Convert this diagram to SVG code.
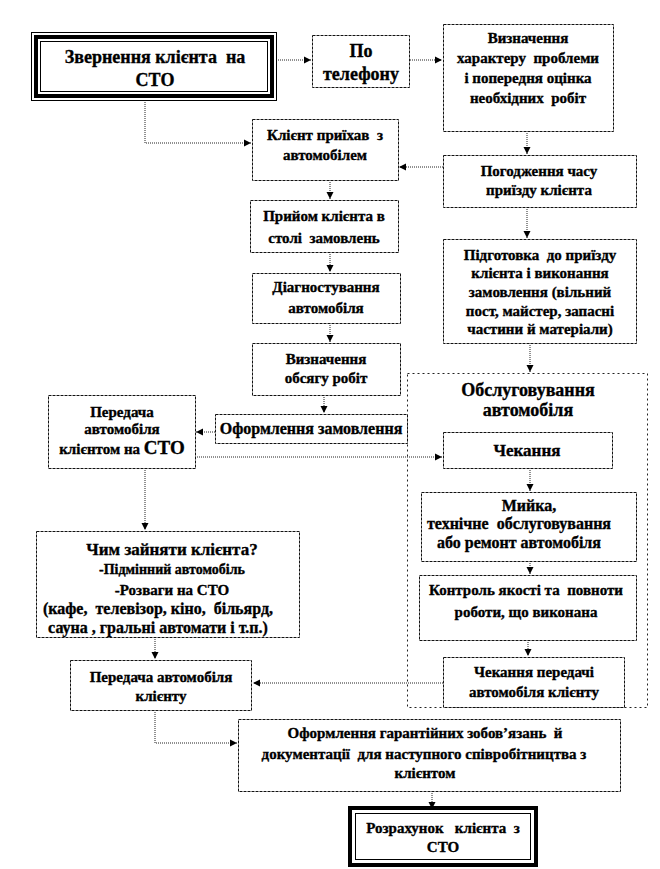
<svg xmlns="http://www.w3.org/2000/svg" width="660" height="869" viewBox="0 0 660 869">
<defs>
<marker id="ah" markerWidth="8" markerHeight="8" refX="7" refY="4" orient="auto" markerUnits="userSpaceOnUse">
<path d="M0,0.5 L7,4 L0,7.5 Z" fill="#000"/>
</marker>
<style>
.b{fill:#fff;stroke:#111;stroke-width:1;stroke-dasharray:3,1}
.t{font-family:'Liberation Serif','DejaVu Serif','Times New Roman',serif;font-weight:bold;font-size:15px;fill:#000;stroke:#000;stroke-width:0.35;text-anchor:middle;white-space:pre}
.ca{fill:none;stroke:#222;stroke-width:1;stroke-dasharray:1,1;marker-end:url(#ah)}
.cont{fill:none;stroke:#222;stroke-width:1;stroke-dasharray:2,3}
</style>
</defs>
<rect width="660" height="869" fill="#fff"/>

<g id="service-container">
<rect class="cont" x="407.5" y="373.5" width="240" height="334"/>
<text class="t" x="528" y="396" style="font-size:18px">Обслуговування</text>
<text class="t" x="528" y="416" style="font-size:18px">автомобіля</text>
</g>

<g id="connectors">
<line class="ca" x1="276" y1="60" x2="311" y2="60"/>
<line class="ca" x1="410" y1="60" x2="442" y2="60"/>
<polyline class="ca" points="145,100 145,143 251,143"/>
<line class="ca" x1="527" y1="131" x2="527" y2="154"/>
<line class="ca" x1="443" y1="167" x2="399" y2="167"/>
<line class="ca" x1="330" y1="180" x2="330" y2="199"/>
<line class="ca" x1="527" y1="207" x2="527" y2="238"/>
<line class="ca" x1="330" y1="252" x2="330" y2="272"/>
<line class="ca" x1="330" y1="323" x2="330" y2="342"/>
<line class="ca" x1="530" y1="343" x2="530" y2="372"/>
<line class="ca" x1="324" y1="395" x2="324" y2="413"/>
<line class="ca" x1="215" y1="432" x2="196" y2="432"/>
<line class="ca" x1="195" y1="457" x2="442" y2="457"/>
<line class="ca" x1="145" y1="468" x2="145" y2="530"/>
<line class="ca" x1="530" y1="468" x2="530" y2="491"/>
<line class="ca" x1="530" y1="561" x2="530" y2="574"/>
<line class="ca" x1="155" y1="637" x2="155" y2="659"/>
<line class="ca" x1="528" y1="640" x2="528" y2="656"/>
<line class="ca" x1="443" y1="683" x2="253" y2="683"/>
<polyline class="ca" points="155,710 155,743 237,743"/>
<line class="ca" x1="432" y1="791" x2="432" y2="809"/>
</g>

<g id="n-start">
<rect x="31.5" y="32.5" width="245" height="68" fill="#fff" stroke="#000" stroke-width="1"/>
<rect x="36" y="37" width="236" height="59" fill="none" stroke="#000" stroke-width="4"/>
<rect x="40.5" y="41.5" width="227" height="50" fill="none" stroke="#000" stroke-width="1"/>
<text class="t" x="155" y="63" style="font-size:18px">Звернення клієнта  на</text>
<text class="t" x="155" y="86" style="font-size:18px">СТО</text>
</g>

<g id="n-phone">
<rect class="b" x="312.5" y="35.5" width="97" height="52"/>
<text class="t" x="361" y="57" style="font-size:18px">По</text>
<text class="t" x="361" y="80" style="font-size:18px">телефону</text>
</g>

<g id="n-define-problem">
<rect class="b" x="443.5" y="24.5" width="170" height="107"/>
<text class="t" x="528" y="43">Визначення</text>
<text class="t" x="528" y="63">характеру  проблеми</text>
<text class="t" x="528" y="83">і попередня оцінка</text>
<text class="t" x="528" y="103">необхідних  робіт</text>
</g>

<g id="n-arrived">
<rect class="b" x="252.5" y="119.5" width="146" height="61"/>
<text class="t" x="325" y="140">Клієнт приїхав  з</text>
<text class="t" x="325" y="160">автомобілем</text>
</g>

<g id="n-agree-time">
<rect class="b" x="443.5" y="155.5" width="193" height="52"/>
<text class="t" x="539" y="176">Погодження часу</text>
<text class="t" x="539" y="195">приїзду клієнта</text>
</g>

<g id="n-reception">
<rect class="b" x="250.5" y="200.5" width="148" height="52"/>
<text class="t" x="324" y="221">Прийом клієнта в</text>
<text class="t" x="324" y="243">столі  замовлень</text>
</g>

<g id="n-prepare">
<rect class="b" x="443.5" y="239.5" width="193" height="104"/>
<text class="t" x="540" y="260">Підготовка  до приїзду</text>
<text class="t" x="540" y="278">клієнта і виконання</text>
<text class="t" x="540" y="297">замовлення (вільний</text>
<text class="t" x="540" y="316">пост, майстер, запасні</text>
<text class="t" x="540" y="334">частини й матеріали)</text>
</g>

<g id="n-diagnostics">
<rect class="b" x="252.5" y="273.5" width="148" height="50"/>
<text class="t" x="326" y="292">Діагностування</text>
<text class="t" x="326" y="313">автомобіля</text>
</g>

<g id="n-scope">
<rect class="b" x="252.5" y="343.5" width="148" height="52"/>
<text class="t" x="326" y="364">Визначення</text>
<text class="t" x="326" y="383">обсягу робіт</text>
</g>

<g id="n-order">
<rect class="b" x="215.5" y="414.5" width="192" height="29"/>
<text class="t" x="311" y="434" style="font-size:16px">Оформлення замовлення</text>
</g>

<g id="n-handover-in">
<rect class="b" x="48.5" y="395.5" width="147" height="73"/>
<text class="t" x="122" y="417">Передача</text>
<text class="t" x="122" y="434">автомобіля</text>
<text class="t" x="122" y="454">клієнтом на <tspan style="font-size:19px">СТО</tspan></text>
</g>

<g id="n-waiting">
<rect class="b" x="443.5" y="432.5" width="169" height="36"/>
<text class="t" x="527" y="456" style="font-size:17px">Чекання</text>
</g>

<g id="n-repair">
<rect class="b" x="421.5" y="492.5" width="215" height="69"/>
<text class="t" x="529" y="511" style="font-size:16px">Мийка,</text>
<text class="t" x="519" y="529" style="font-size:16px">технічне  обслуговування</text>
<text class="t" x="519" y="548" style="font-size:16px">або ремонт автомобіля</text>
</g>

<g id="n-occupy">
<rect class="b" x="36.5" y="531.5" width="263" height="106"/>
<text class="t" x="172" y="555" style="font-size:17px">Чим зайняти клієнта?</text>
<text class="t" x="172" y="574" style="font-size:14px">-Підмінний автомобіль</text>
<text class="t" x="172" y="595">-Розваги на СТО</text>
<text class="t" x="158" y="614" style="font-size:16px">(кафе,  телевізор, кіно,  більярд,</text>
<text class="t" x="158" y="633" style="font-size:16px">сауна , гральні автомати і т.п.)</text>
</g>

<g id="n-quality">
<rect class="b" x="419.5" y="575.5" width="217" height="65"/>
<text class="t" x="526" y="595">Контроль якості та  повноти</text>
<text class="t" x="526" y="617">роботи, що виконана</text>
</g>

<g id="n-wait-handover">
<rect class="b" x="443.5" y="657.5" width="181" height="50"/>
<text class="t" x="534" y="677">Чекання передачі</text>
<text class="t" x="534" y="697">автомобіля клієнту</text>
</g>

<g id="n-handover-out">
<rect class="b" x="70.5" y="660.5" width="181" height="50"/>
<text class="t" x="161" y="682">Передача автомобіля</text>
<text class="t" x="161" y="701">клієнту</text>
</g>

<g id="n-warranty">
<rect class="b" x="238.5" y="719.5" width="382" height="72"/>
<text class="t" x="425" y="738">Оформлення гарантійних зобов’язань  й</text>
<text class="t" x="424" y="759">документації  для наступного співробітництва з</text>
<text class="t" x="425" y="778">клієнтом</text>
</g>

<g id="n-payment">
<rect x="350" y="808" width="186" height="57" fill="#fff" stroke="#000" stroke-width="4"/>
<rect x="355.5" y="813.5" width="175" height="46" fill="none" stroke="#000" stroke-width="1"/>
<text class="t" x="443" y="833">Розрахунок   клієнта  з</text>
<text class="t" x="443" y="852">СТО</text>
</g>
</svg>
